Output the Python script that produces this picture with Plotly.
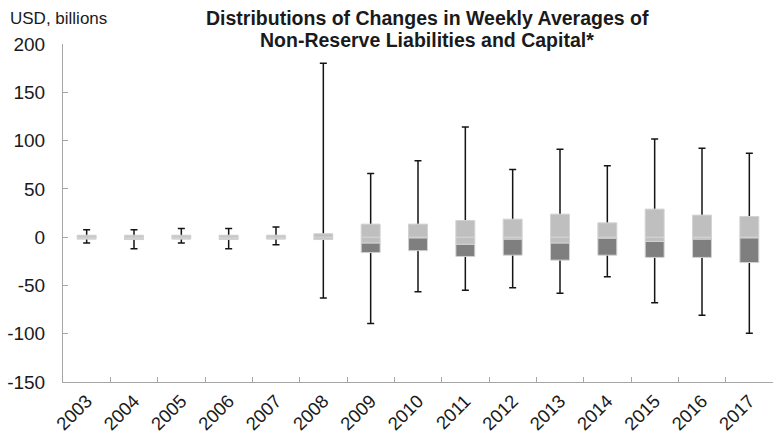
import numpy as np
import plotly.graph_objects as go

# Distribution summary per year (USD billions)
years = ["2003", "2004", "2005", "2006", "2007", "2008", "2009", "2010",
         "2011", "2012", "2013", "2014", "2015", "2016", "2017"]
whisker_max = [7.6, 7.6, 9.0, 9.0, 10.4, 180.0, 66.0, 79.0, 114.0, 70.0, 91.0, 74.0, 101.5, 92.0, 87.0]
whisker_min = [-6.0, -12.0, -6.0, -12.0, -8.0, -63.0, -89.5, -56.5, -55.0, -52.5, -58.0, -41.0, -68.0, -81.0, -99.5]
q3 = [2.0, 2.0, 2.0, 2.0, 2.0, 3.5, 13.5, 13.5, 17.2, 18.6, 23.8, 14.8, 29.0, 22.8, 21.4]
median = [-1.5, -1.5, -1.5, -1.5, -1.5, -2.0, -6.0, -0.7, -7.3, -2.0, -6.0, -1.0, -4.5, -2.0, -0.7]
q1 = [-2.0, -2.5, -2.0, -2.5, -2.0, -2.5, -16.0, -14.0, -20.0, -18.7, -23.8, -18.7, -21.0, -21.0, -26.3]

y_ticks = [-150, -100, -50, 0, 50, 100, 150, 200]
title_lines = ["Distributions of Changes in Weekly Averages of",
               "Non-Reserve Liabilities and Capital*"]

LIGHT = "#bfbfbf"
DARK = "#7f7f7f"
EDGE = "#d2d2d2"
AXIS = "#a6a6a6"
FONT = "Liberation Sans, Arial, sans-serif"

wmax = np.array(whisker_max)
wmin = np.array(whisker_min)
hi = np.array(q3)
mid = np.array(median)
lo = np.array(q1)

fig = go.Figure()

# Whiskers (min to max with caps) on the base axes, so the boxes cover them
fig.add_trace(go.Scatter(
    x=years, y=wmin, mode="markers",
    marker=dict(size=1, color="rgba(0,0,0,0)"),
    error_y=dict(type="data", symmetric=False, array=wmax - wmin,
                 arrayminus=np.zeros_like(wmin), color="#141414",
                 thickness=1.5, width=3.5),
    hoverinfo="skip", showlegend=False,
))

bar_kw = dict(width=0.4, marker_line=dict(color=EDGE, width=1),
              yaxis="y2", showlegend=False, hoverinfo="skip")

# Lower quartile box: Q1 to median
fig.add_trace(go.Bar(x=years, base=lo, y=mid - lo, marker_color=DARK, **bar_kw))
# Upper quartile box, stacked in two pieces around zero
neg_top = np.minimum(0, hi)
fig.add_trace(go.Bar(x=years, base=mid, y=np.maximum(0, neg_top - mid),
                     marker_color=LIGHT, **bar_kw))
pos_base = np.maximum(0, mid)
fig.add_trace(go.Bar(x=years, base=pos_base, y=hi - pos_base,
                     marker_color=LIGHT, **bar_kw))

PLOT_W, PLOT_H, L, T = 710, 338, 63, 44


def px_x(x):
    return (x - L) / PLOT_W


def px_y(y):
    return 1 + (T - y) / PLOT_H


annotations = [
    dict(text="USD, billions", xref="paper", yref="paper",
         x=px_x(8), y=px_y(18), xanchor="left", yanchor="middle",
         showarrow=False, font=dict(size=17)),
]
for line, ypix in zip(title_lines, [18, 40]):
    annotations.append(dict(
        text=f"<b>{line}</b>", xref="paper", yref="paper",
        x=px_x(427), y=px_y(ypix), xanchor="center", yanchor="middle",
        showarrow=False, font=dict(size=19.5)))

yrange = [-150, 200]
fig.update_layout(
    width=773, height=443,
    margin=dict(l=L, r=0, t=T, b=61),
    paper_bgcolor="white", plot_bgcolor="white",
    barmode="overlay",
    font=dict(family=FONT, size=19, color="#1a1a1a"),
    xaxis=dict(type="category", range=[-0.5, 14.5], showline=True,
               linecolor=AXIS, linewidth=1, ticks="inside", ticklen=5,
               tickcolor=AXIS, tickson="boundaries", tickangle=-45,
               showgrid=False, tickfont=dict(size=18.5)),
    yaxis=dict(range=yrange, tickvals=y_ticks, ticktext=[str(v) for v in y_ticks],
               showline=True, linecolor=AXIS, linewidth=1, ticks="inside",
               ticklen=5, tickcolor=AXIS, showgrid=False, zeroline=False,
               ticklabelstandoff=13),
    yaxis2=dict(range=yrange, overlaying="y", visible=False),
    annotations=annotations,
)

fig.write_html("out.html")
